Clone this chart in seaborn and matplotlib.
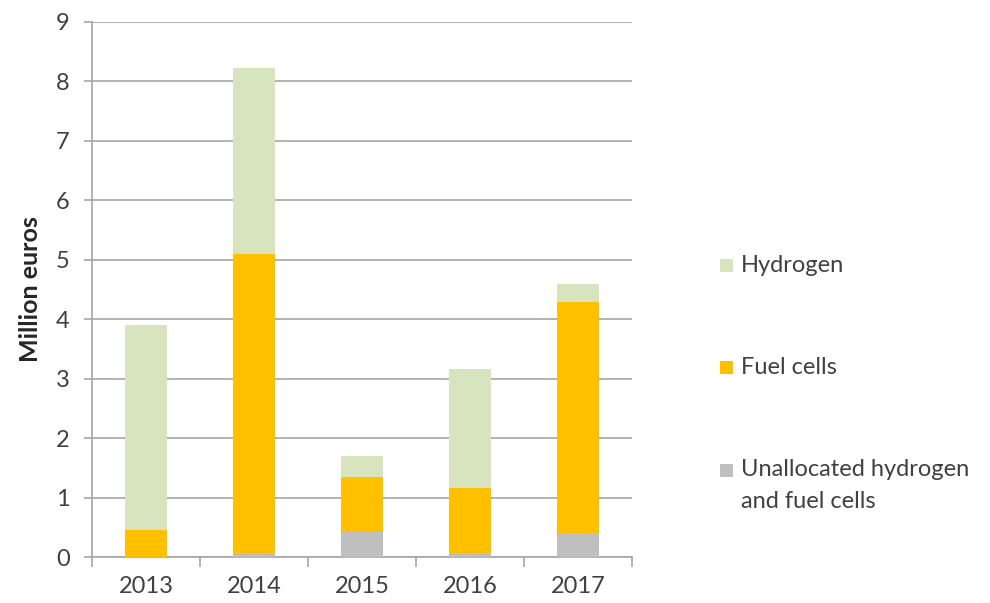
import matplotlib
matplotlib.use("Agg")
import matplotlib.pyplot as plt
import seaborn as sns
import pandas as pd
import numpy as np
from matplotlib.patches import Rectangle

years = ["2013", "2014", "2015", "2016", "2017"]
unallocated = [0.0, 0.05, 0.44, 0.05, 0.40]
fuel_cells = [0.45, 5.05, 0.90, 1.11, 3.89]
hydrogen = [3.45, 3.13, 0.36, 2.01, 0.31]
legend_labels = ["Hydrogen", "Fuel cells", "Unallocated hydrogen\nand fuel cells"]

c_h = "#D7E4BD"
c_f = "#FFC000"
c_u = "#BFBFBF"
txt = "#404040"
grid = "#A6A6A6"

sns.set_theme(style="white")
plt.rcParams["font.family"] = ["Lato", "DejaVu Sans"]

df = pd.DataFrame({"year": years, "u": unallocated, "f": fuel_cells, "h": hydrogen})
df["uf"] = df["u"] + df["f"]
df["ufh"] = df["uf"] + df["h"]

W, H = 990, 603
fig = plt.figure(figsize=(W / 100, H / 100), dpi=100)
ax = fig.add_axes([92 / W, 1 - 557 / H, 540 / W, 535 / H])

for col, c in [("ufh", c_h), ("uf", c_f), ("u", c_u)]:
    sns.barplot(data=df, x="year", y=col, color=c, width=0.39, saturation=1,
                linewidth=0, ax=ax, zorder=3)

ax.set_ylim(0, 9)
ax.set_xlim(-0.5, 4.5)
ax.set_yticks(range(0, 10))
ax.yaxis.grid(True, color=grid, linewidth=1.2, zorder=0)
ax.set_axisbelow(True)
for s in ["top", "right"]:
    ax.spines[s].set_visible(False)
for s in ["left", "bottom"]:
    ax.spines[s].set_color(grid)
    ax.spines[s].set_linewidth(1.2)

ax.set_xticks(np.arange(len(years)))
ax.set_xticklabels(years, fontsize=17, color=txt)
ax.set_xticks(np.arange(-0.5, len(years)), minor=True)
ax.tick_params(axis="x", which="major", length=0, pad=14)
ax.tick_params(axis="x", which="minor", length=7, width=1.2, color=grid, direction="out", bottom=True)
ax.tick_params(axis="y", length=6, width=1.2, color=grid, direction="out", left=True,
               labelsize=17, labelcolor=txt, pad=10)
ax.set_xlabel("")
ax.set_ylabel("Million euros", fontsize=18, fontweight="bold", color="#262626", labelpad=10)

# legend: square aligned with the first line of each label, as in the reference
colors = [c_h, c_f, c_u]
ys = [265, 367, 470]
for lab, c, y in zip(legend_labels, colors, ys):
    fig.patches.append(Rectangle((720 / W, 1 - (y + 6.5) / H), 13 / W, 13 / H,
                                 transform=fig.transFigure, facecolor=c, edgecolor="none"))
    for i, line in enumerate(lab.split("\n")):
        fig.text(741 / W, 1 - (y + 32 * i) / H, line, fontsize=17, color=txt,
                 va="center", ha="left")

fig.savefig("out.png", dpi=100)
